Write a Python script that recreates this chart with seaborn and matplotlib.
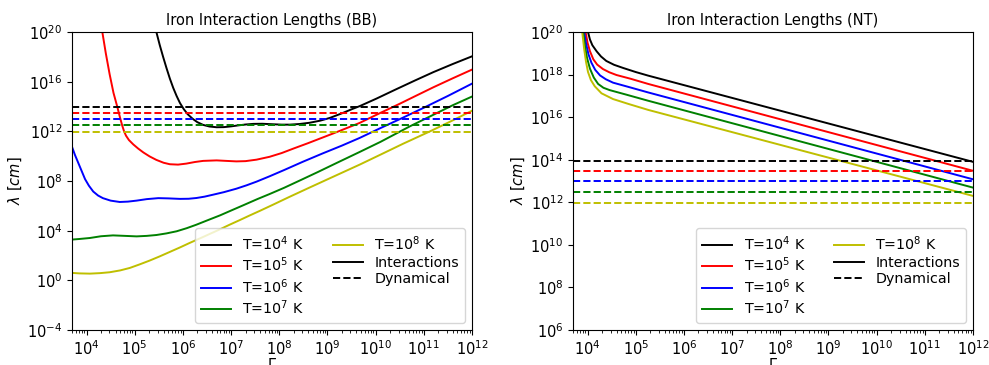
import numpy as np
import pandas as pd
import matplotlib
matplotlib.use("Agg")
import matplotlib.pyplot as plt
from matplotlib.lines import Line2D
from matplotlib.ticker import NullLocator, LogLocator
import seaborn as sns

# ---------------- data (log10 values) ----------------
temps = ["T=$10^4$ K", "T=$10^5$ K", "T=$10^6$ K", "T=$10^7$ K", "T=$10^8$ K"]
colors = ["k", "r", "b", "g", "y"]

# Dynamical lengths (log10 cm), same in both panels
dyn_log = [13.96, 13.47, 12.98, 12.48, 11.96]

# BB panel: interaction lengths (log10 Gamma, log10 lambda)
bb_k_x = [5.40, 5.45, 5.52, 5.59, 5.66, 5.73, 5.80, 5.87, 5.94, 6.02, 6.10, 6.20, 6.30, 6.42, 6.55, 6.70, 6.85, 7.00, 7.15, 7.30, 7.46, 7.65, 7.87, 8.05, 8.22, 8.42, 8.63, 8.85, 9.05, 9.30, 9.53, 9.67, 10.02, 10.40, 10.82, 11.20, 11.60, 12.0]
bb_k_y = [21.0, 20.0, 18.95, 18.00, 17.10, 16.25, 15.50, 14.85, 14.28, 13.78, 13.38, 13.02, 12.74, 12.52, 12.39, 12.33, 12.34, 12.40, 12.48, 12.55, 12.60, 12.61, 12.57, 12.54, 12.54, 12.59, 12.69, 12.86, 13.08, 13.45, 13.82, 14.03, 14.64, 15.34, 16.10, 16.77, 17.42, 18.04]

bb_r_x = [4.28, 4.32, 4.40, 4.48, 4.56, 4.64, 4.70, 4.74, 4.78, 4.82, 4.88, 4.97, 5.07, 5.18, 5.31, 5.45, 5.60, 5.73, 5.90, 6.07, 6.25, 6.42, 6.70, 6.90, 7.11, 7.30, 7.53, 7.80, 8.05, 8.30, 8.60, 8.90, 9.20, 9.67, 10.08, 10.50, 10.82, 11.20, 11.60, 12.0]
bb_r_y = [21.2, 20.2, 18.30, 16.60, 15.10, 13.96, 13.05, 12.48, 12.00, 11.65, 11.30, 10.95, 10.62, 10.30, 9.98, 9.70, 9.47, 9.35, 9.32, 9.40, 9.53, 9.62, 9.66, 9.62, 9.58, 9.60, 9.72, 9.95, 10.25, 10.62, 11.05, 11.50, 11.95, 12.68, 13.45, 14.22, 14.83, 15.55, 16.27, 16.97]

bb_b_x = [3.69, 3.76, 3.83, 3.90, 3.97, 4.05, 4.14, 4.24, 4.34, 4.50, 4.69, 4.86, 5.04, 5.25, 5.49, 5.70, 5.94, 6.12, 6.28, 6.45, 6.63, 6.85, 7.11, 7.32, 7.53, 7.80, 8.10, 8.49, 8.90, 9.30, 9.67, 10.10, 10.54, 11.00, 11.50, 12.0]
bb_b_y = [10.85, 10.10, 9.45, 8.80, 8.15, 7.62, 7.15, 6.83, 6.62, 6.42, 6.31, 6.34, 6.42, 6.54, 6.62, 6.60, 6.56, 6.57, 6.63, 6.74, 6.90, 7.10, 7.38, 7.65, 7.95, 8.38, 8.88, 9.55, 10.22, 10.85, 11.47, 12.26, 13.05, 13.90, 14.85, 15.84]

bb_g_x = [3.69, 3.85, 4.07, 4.30, 4.55, 4.80, 5.04, 5.25, 5.45, 5.66, 5.87, 6.08, 6.28, 6.52, 6.77, 7.00, 7.25, 7.55, 7.80, 8.10, 8.46, 8.80, 9.19, 9.67, 10.10, 10.71, 11.26, 11.60, 12.0]
bb_g_y = [3.28, 3.33, 3.41, 3.55, 3.62, 3.58, 3.54, 3.58, 3.65, 3.78, 3.95, 4.20, 4.48, 4.85, 5.23, 5.62, 6.04, 6.55, 6.95, 7.45, 8.10, 8.72, 9.45, 10.34, 11.15, 12.40, 13.45, 14.10, 14.80]

bb_y_x = [3.69, 3.85, 4.07, 4.28, 4.48, 4.70, 4.90, 5.10, 5.31, 5.52, 5.73, 5.94, 6.14, 6.35, 6.56, 6.77, 6.97, 7.18, 7.39, 7.60, 7.87, 8.20, 8.60, 9.05, 9.67, 10.10, 10.57, 11.13, 11.60, 12.0]
bb_y_y = [0.60, 0.56, 0.54, 0.58, 0.65, 0.80, 1.00, 1.28, 1.59, 1.93, 2.29, 2.65, 3.01, 3.37, 3.74, 4.11, 4.48, 4.85, 5.23, 5.60, 6.09, 6.70, 7.42, 8.22, 9.32, 10.12, 11.00, 12.00, 12.88, 13.66]

# NT panel: interaction lengths
nt_k_x = [3.99, 4.01, 4.05, 4.10, 4.19, 4.28, 4.39, 4.55, 4.74, 5.00, 5.26, 12.0]
nt_k_y = [20.5, 20.0, 19.65, 19.38, 19.09, 18.85, 18.64, 18.46, 18.31, 18.12, 17.95, 13.90]
nt_r_x = [3.94, 3.96, 4.00, 4.05, 4.12, 4.20, 4.32, 4.45, 4.60, 4.90, 5.26, 12.0]
nt_r_y = [20.5, 20.0, 19.50, 19.10, 18.72, 18.47, 18.26, 18.11, 17.98, 17.80, 17.56, 13.48]
nt_b_x = [3.91, 3.93, 3.97, 4.02, 4.08, 4.16, 4.26, 4.38, 4.53, 4.85, 5.26, 12.0]
nt_b_y = [20.5, 20.0, 19.45, 18.95, 18.56, 18.22, 17.96, 17.78, 17.62, 17.42, 17.16, 13.08]
nt_g_x = [3.89, 3.91, 3.95, 3.99, 4.05, 4.13, 4.22, 4.33, 4.46, 4.80, 5.26, 12.0]
nt_g_y = [20.5, 20.0, 19.30, 18.78, 18.28, 17.86, 17.56, 17.38, 17.27, 17.06, 16.77, 12.69]
nt_y_x = [3.87, 3.89, 3.93, 3.97, 4.01, 4.07, 4.15, 4.29, 4.53, 4.85, 5.26, 12.0]
nt_y_y = [20.5, 20.0, 19.20, 18.58, 18.12, 17.74, 17.45, 17.12, 16.85, 16.62, 16.34, 12.30]

bb_curves = [(bb_k_x, bb_k_y), (bb_r_x, bb_r_y), (bb_b_x, bb_b_y), (bb_g_x, bb_g_y), (bb_y_x, bb_y_y)]
nt_curves = [(nt_k_x, nt_k_y), (nt_r_x, nt_r_y), (nt_b_x, nt_b_y), (nt_g_x, nt_g_y), (nt_y_x, nt_y_y)]

titles = ["Iron Interaction Lengths (BB)", "Iron Interaction Lengths (NT)"]
ylims = [(-4, 20), (6, 20)]
ystep = [4, 2]

# ---------------- plotting ----------------
plt.rcParams["font.family"] = ["DejaVu Sans"]
plt.rcParams["mathtext.fontset"] = "dejavusans"

fig = plt.figure(figsize=(9.89, 3.65), dpi=100)
ax1 = fig.add_axes([0.0728, 0.0959, 0.4044, 0.8164])
ax2 = fig.add_axes([0.5794, 0.0959, 0.4044, 0.8164])

for ax, curves, title, ylim, st in zip([ax1, ax2], [bb_curves, nt_curves], titles, ylims, ystep):
    for (cx, cy), c in zip(curves, colors):
        df = pd.DataFrame({"G": np.power(10.0, cx), "L": np.power(10.0, cy)})
        sns.lineplot(data=df, x="G", y="L", ax=ax, color=c, lw=1.4,
                     estimator=None, sort=False)
    for d, c in zip(dyn_log, colors):
        ax.axhline(10.0 ** d, color=c, ls="--", lw=1.4)
    ax.set_xscale("log")
    ax.set_yscale("log")
    ax.set_xlim(5e3, 1e12)
    ax.set_ylim(10.0 ** ylim[0], 10.0 ** ylim[1])
    ax.set_yticks([10.0 ** e for e in range(ylim[0], ylim[1] + 1, st)])
    ax.yaxis.set_minor_locator(NullLocator())
    ax.xaxis.set_major_locator(LogLocator(base=10, numticks=20))
    ax.xaxis.set_minor_locator(LogLocator(base=10, subs=np.arange(2, 10), numticks=20))
    ax.tick_params(labelsize=10.5)
    ax.set_title(title, fontsize=10.5, pad=5)
    ax.set_xlabel(r"$\Gamma$", fontsize=10.5, labelpad=-1)
    ax.set_ylabel(r"$\lambda\ [cm]$", fontsize=10.5, labelpad=2)

    handles = [Line2D([], [], color=c, lw=1.4) for c in colors]
    handles += [Line2D([], [], color="k", lw=1.4), Line2D([], [], color="k", lw=1.4, ls="--")]
    labels = temps + ["Interactions", "Dynamical"]
    ax.legend(handles, labels, ncol=2, loc="lower right", fontsize=10.3,
              labelspacing=0.2, handlelength=2.1)

fig.savefig("out.png", dpi=100)
